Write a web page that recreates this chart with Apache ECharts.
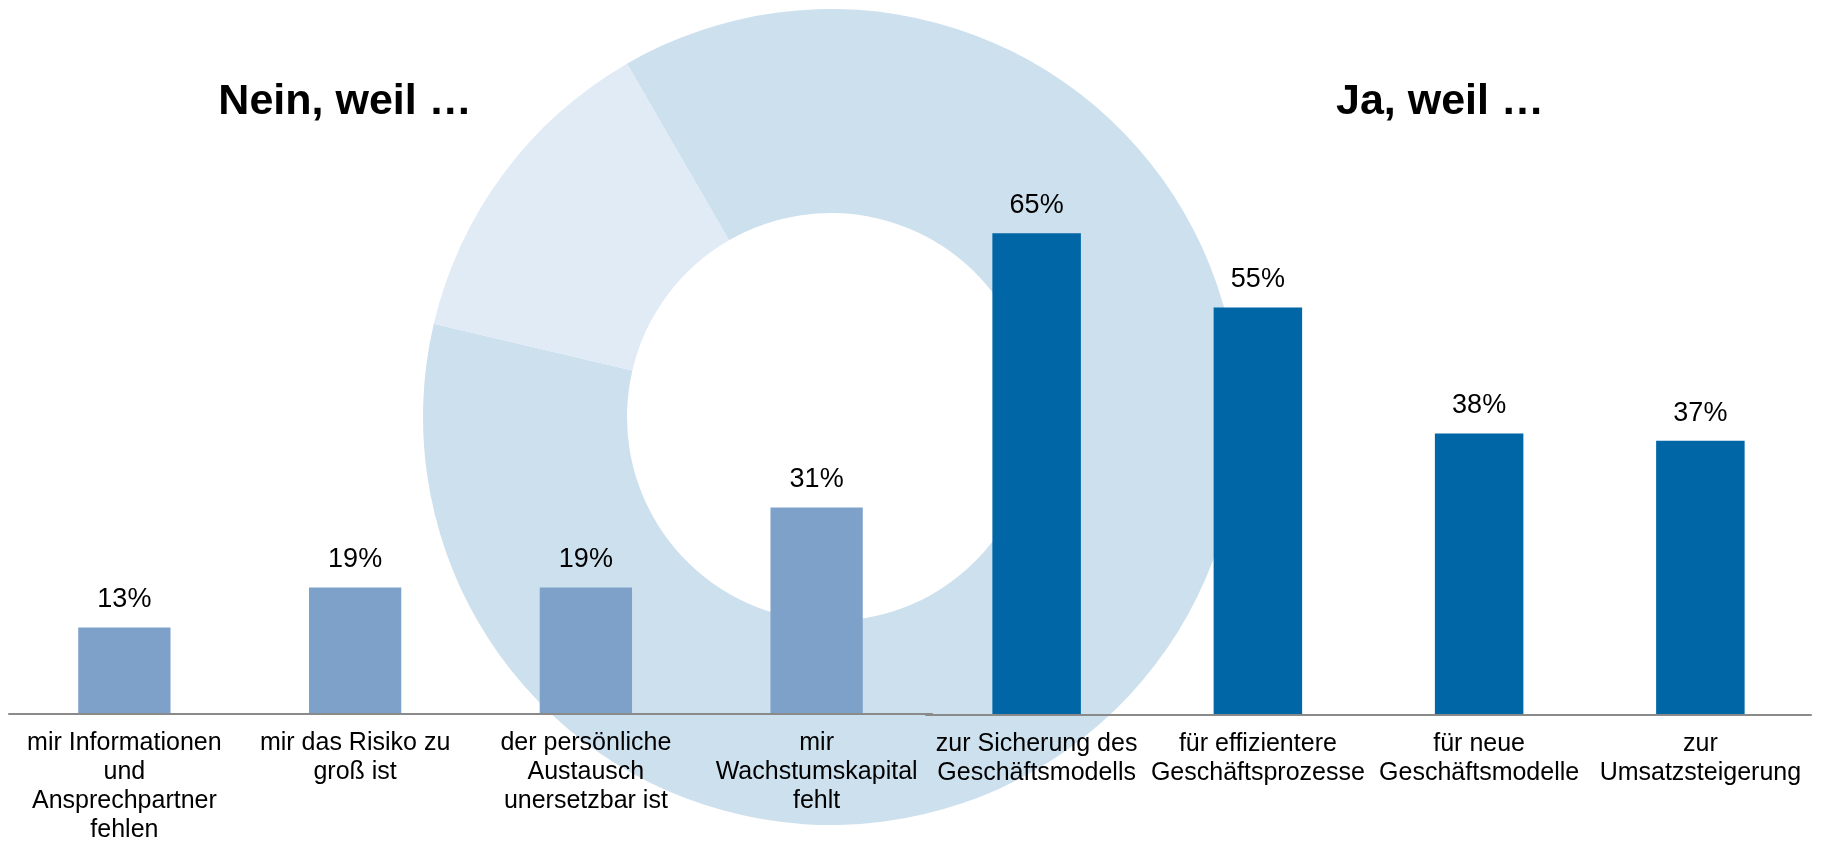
<!DOCTYPE html>
<html>
<head>
<meta charset="utf-8">
<script src="https://cdn.jsdelivr.net/npm/echarts@6/dist/echarts.min.js"></script>
<style>
  html, body { margin: 0; padding: 0; background: #fff; }
  #chart { width: 1822px; height: 845px; }
</style>
</head>
<body>
<div id="chart"></div>
<script>
const neinCategories = [
  'mir Informationen\nund\nAnsprechpartner\nfehlen',
  'mir das Risiko zu\ngroß ist',
  'der persönliche\nAustausch\nunersetzbar ist',
  'mir\nWachstumskapital\nfehlt'
];
const neinValues = [13, 19, 19, 31];

const jaCategories = [
  'zur Sicherung des\nGeschäftsmodells',
  'für effizientere\nGeschäftsprozesse',
  'für neue\nGeschäftsmodelle',
  'zur\nUmsatzsteigerung'
];
const jaValues = [65, 55, 38, 37];

const ringNames = ['Ja', 'Nein'];
const ringValues = [87, 13];
const ringColors = ['#cde0ee', '#e1ebf5'];

const FONT = '"Liberation Sans", Arial, sans-serif';

const chart = echarts.init(document.getElementById('chart'));

const axisLabelStyle = {
  interval: 0,
  color: '#000',
  fontSize: 25,
  lineHeight: 29,
  fontFamily: FONT,
  margin: 15,
  align: 'center'
};

const valueLabel = {
  show: true,
  position: 'top',
  distance: 14,
  formatter: '{c}%',
  color: '#000',
  fontSize: 27,
  fontFamily: FONT
};

const option = {
  backgroundColor: '#fff',
  animation: false,
  graphic: [
    {
      type: 'text', x: 345, y: 102, z: 10,
      style: {
        text: 'Nein, weil …', fontSize: 43, fontWeight: 'bold', fontFamily: FONT,
        fill: '#000', align: 'center', verticalAlign: 'middle',
        textAlign: 'center', textVerticalAlign: 'middle'
      }
    },
    {
      type: 'text', x: 1440, y: 102, z: 10,
      style: {
        text: 'Ja, weil …', fontSize: 43, fontWeight: 'bold', fontFamily: FONT,
        fill: '#000', align: 'center', verticalAlign: 'middle',
        textAlign: 'center', textVerticalAlign: 'middle'
      }
    }
  ],
  grid: [
    { left: 9, width: 923, top: 48, bottom: 130 },
    { left: 926, right: 11, top: 48, bottom: 130 }
  ],
  xAxis: [
    {
      type: 'category', gridIndex: 0, data: neinCategories, z: 5,
      axisLine: { lineStyle: { color: '#8a8a8a', width: 2 } },
      axisTick: { show: false },
      axisLabel: axisLabelStyle
    },
    {
      type: 'category', gridIndex: 1, data: jaCategories, z: 5,
      axisLine: { lineStyle: { color: '#8a8a8a', width: 2 } },
      axisTick: { show: false },
      axisLabel: axisLabelStyle
    }
  ],
  yAxis: [
    { type: 'value', gridIndex: 0, min: 0, max: 100, show: false, splitLine: { show: false } },
    { type: 'value', gridIndex: 1, min: 0, max: 90, show: false, splitLine: { show: false } }
  ],
  series: [
    {
      name: 'Ring',
      type: 'pie',
      z: 1,
      silent: true,
      center: [831, 417],
      radius: [204, 408],
      startAngle: 120,
      clockwise: true,
      avoidLabelOverlap: false,
      label: { show: false },
      labelLine: { show: false },
      emphasis: { disabled: true },
      data: ringNames.map((n, i) => ({
        name: n,
        value: ringValues[i],
        itemStyle: { color: ringColors[i], borderWidth: 0 }
      }))
    },
    {
      name: 'Nein',
      type: 'bar',
      xAxisIndex: 0, yAxisIndex: 0,
      z: 3,
      barWidth: '40%',
      itemStyle: { color: '#7ea1ca' },
      label: valueLabel,
      data: neinValues
    },
    {
      name: 'Ja',
      type: 'bar',
      xAxisIndex: 1, yAxisIndex: 1,
      z: 3,
      barWidth: '40%',
      itemStyle: { color: '#0066a6' },
      label: valueLabel,
      data: jaValues
    }
  ]
};

chart.setOption(option);
</script>
</body>
</html>
